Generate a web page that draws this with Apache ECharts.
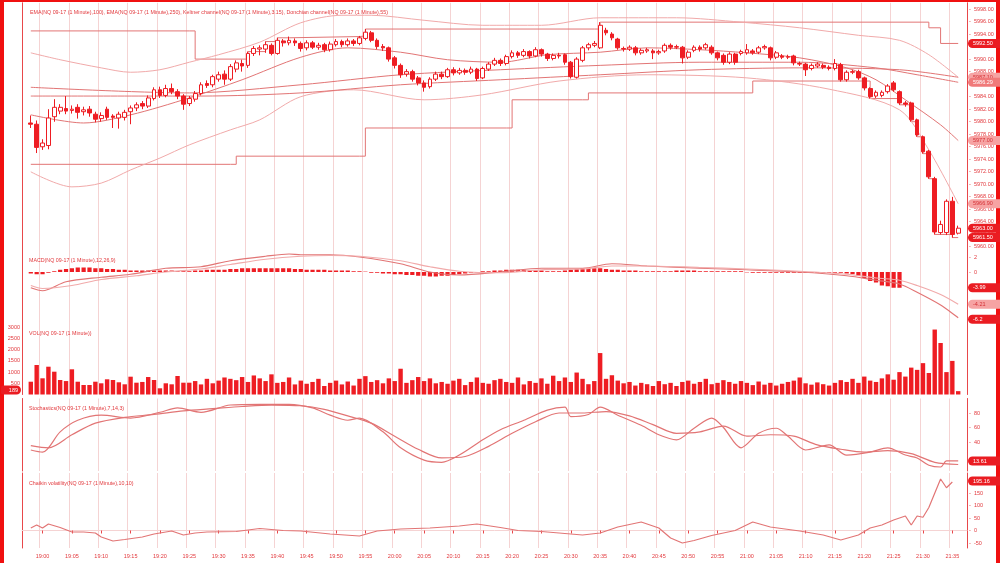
<!DOCTYPE html>
<html><head><meta charset="utf-8">
<script src="https://cdn.jsdelivr.net/npm/echarts@6.0.0/dist/echarts.min.js"></script>
<style>html,body{margin:0;padding:0;background:#fff}#c{width:1000px;height:563px}</style>
</head><body><div id="c"></div>
<script>
// ---------- categories (1-minute bars, 18:57 .. 21:37) ----------
const startMinute = 18 * 60 + 57, endMinute = 21 * 60 + 37;
const categories = [];
for (let m = startMinute; m <= endMinute; m++) categories.push(Math.floor(m / 60) + ':' + String(m % 60).padStart(2, '0'));

// ---------- OHLC  [open, close, low, high], first bar = index 1 (18:58) ----------
const candleStart = 1;
const ohlc = [
[5979.8,5979.6,5979.0,5981.0],[5979.6,5975.9,5975.0,5980.2],[5976.0,5976.6,5975.5,5977.2],[5976.2,5980.6,5975.6,5982.0],
[5980.8,5982.3,5980.0,5983.6],[5981.7,5982.3,5981.2,5982.8],[5982.1,5981.7,5981.2,5984.1],[5981.8,5982.0,5981.3,5982.6],
[5982.3,5981.5,5980.5,5982.8],[5981.6,5981.9,5981.0,5982.4],[5982.0,5981.4,5980.8,5982.5],[5981.2,5980.4,5979.9,5981.6],
[5980.5,5981.0,5980.0,5981.5],[5982.0,5980.7,5980.3,5982.4],[5980.9,5980.7,5979.0,5981.2],[5980.6,5981.2,5978.9,5981.6],
[5980.7,5981.5,5980.2,5981.9],[5981.6,5982.2,5979.6,5982.6],[5982.2,5982.7,5981.7,5983.1],[5982.9,5982.5,5982.0,5983.3],
[5982.5,5983.8,5982.2,5984.2],[5983.7,5985.1,5983.4,5985.5],[5985.1,5984.2,5983.8,5985.6],[5984.2,5985.3,5983.9,5985.9],
[5985.3,5984.8,5984.4,5986.1],[5984.8,5984.1,5983.6,5985.2],[5984.1,5982.8,5981.9,5984.4],[5982.9,5983.7,5982.5,5984.1],
[5983.6,5984.5,5983.2,5984.9],[5984.5,5985.9,5984.2,5986.3],[5986.1,5985.8,5985.4,5986.6],[5985.9,5987.2,5985.5,5987.5],
[5986.8,5987.5,5986.4,5988.0],[5987.6,5986.8,5985.9,5988.2],[5986.8,5988.8,5986.5,5989.2],[5988.4,5989.4,5987.9,5989.8],
[5989.3,5988.9,5988.0,5989.9],[5989.0,5990.9,5988.6,5991.2],[5990.9,5991.7,5990.5,5992.1],[5991.6,5991.8,5990.6,5992.2],
[5991.6,5992.3,5991.0,5992.8],[5992.2,5990.9,5990.6,5992.5],[5990.9,5993.0,5990.7,5993.4],[5992.9,5992.6,5992.0,5993.2],
[5992.6,5993.0,5992.2,5993.6],[5992.9,5992.6,5992.1,5993.3],[5992.5,5991.7,5991.2,5992.8],
[5991.8,5992.6,5991.4,5993.0],[5992.6,5991.9,5991.6,5992.9],[5991.9,5992.2,5991.5,5992.6],[5992.3,5991.5,5991.1,5992.6],
[5991.5,5992.4,5991.2,5992.8],[5992.3,5992.8,5992.0,5993.2],[5992.8,5992.3,5991.9,5993.1],[5992.3,5992.9,5992.0,5993.3],
[5992.9,5992.5,5992.1,5993.2],[5992.5,5993.4,5992.2,5993.7],[5993.3,5994.3,5993.0,5994.8],[5994.2,5993.0,5992.7,5994.5],
[5993.0,5992.0,5991.6,5993.3],[5992.0,5991.8,5991.3,5992.4],[5991.8,5990.0,5989.6,5992.0],[5990.2,5989.0,5988.5,5990.5],
[5989.0,5987.5,5987.0,5989.3],[5987.6,5988.0,5987.2,5988.4],[5988.0,5986.8,5986.4,5988.3],[5987.0,5986.2,5985.8,5987.3],
[5986.2,5985.5,5984.8,5986.6],[5985.6,5986.8,5985.3,5987.1],[5986.8,5987.6,5986.5,5988.0],[5987.6,5987.2,5986.8,5988.0],
[5987.2,5988.3,5987.0,5988.6],[5988.3,5987.8,5987.4,5988.7],[5987.8,5988.2,5987.5,5988.6],[5988.2,5987.9,5987.5,5988.5],
[5987.9,5988.4,5987.6,5988.8],[5988.4,5986.9,5986.5,5988.6],[5987.0,5988.5,5986.8,5988.8],[5988.4,5989.2,5988.1,5989.5],
[5989.2,5989.8,5988.9,5990.2],[5989.8,5989.3,5988.9,5990.1],[5989.3,5990.4,5989.0,5990.7],[5990.4,5991.0,5990.1,5991.4],
[5991.0,5990.6,5990.2,5991.3],[5990.6,5991.2,5990.3,5991.6],[5991.2,5990.5,5990.1,5991.4],[5990.5,5991.5,5990.3,5991.9],
[5991.5,5990.8,5990.4,5991.7],[5990.8,5990.1,5989.7,5991.0],[5990.1,5990.6,5989.8,5990.9],[5990.6,5990.5,5990.1,5991.0],
[5990.7,5989.5,5989.1,5990.9],[5989.5,5987.2,5986.9,5989.7],[5987.1,5990.0,5986.9,5990.3],[5989.8,5991.8,5989.5,5992.1],
[5991.8,5992.3,5991.4,5992.6],[5992.2,5992.5,5991.9,5992.9],[5991.8,5995.4,5991.6,5995.9],[5994.6,5994.2,5993.8,5995.0],
[5994.0,5993.4,5993.0,5994.3],[5993.2,5991.8,5991.5,5993.4],[5991.7,5991.6,5991.2,5992.0],[5991.6,5991.9,5991.3,5992.2],
[5991.8,5991.0,5990.6,5992.1],[5991.0,5991.4,5990.7,5991.7],[5991.3,5991.5,5991.0,5991.8],[5991.3,5991.0,5990.0,5991.6],
[5991.0,5991.2,5990.7,5991.5],[5991.3,5992.2,5991.0,5992.5],[5992.2,5991.9,5991.5,5992.5],[5991.9,5992.0,5991.6,5992.3],
[5991.9,5990.2,5989.3,5992.1],[5990.3,5991.1,5990.0,5991.4],[5991.4,5991.9,5991.1,5992.2],[5991.9,5991.6,5991.2,5992.2],
[5991.8,5992.3,5991.5,5992.6],[5991.9,5991.0,5990.7,5992.2],[5991.0,5990.2,5989.8,5991.2],[5990.6,5989.5,5989.1,5990.9],
[5989.5,5990.8,5989.2,5991.1],[5990.8,5989.5,5989.1,5991.0],[5990.9,5991.2,5990.6,5991.5],[5991.0,5991.5,5990.7,5992.4],
[5991.3,5991.0,5990.7,5991.6],[5991.1,5991.8,5990.8,5992.1],[5991.8,5992.0,5991.5,5992.3],[5991.8,5990.2,5989.8,5992.0],
[5990.3,5991.0,5990.0,5991.3],[5990.5,5990.3,5990.0,5990.8],[5990.3,5990.4,5990.0,5990.7],[5990.5,5989.4,5989.0,5990.7],
[5989.3,5989.2,5988.9,5989.6],[5989.2,5988.3,5987.3,5989.4],[5988.5,5989.0,5988.2,5989.3],[5988.9,5989.2,5988.6,5989.5],
[5989.0,5988.7,5988.4,5989.3],[5988.7,5988.5,5988.2,5989.0],[5988.5,5989.3,5988.2,5990.0],[5989.1,5986.7,5986.4,5989.4],
[5986.7,5987.9,5986.4,5988.2],[5987.9,5988.0,5987.6,5988.3],[5988.0,5987.0,5986.7,5988.3],[5987.0,5985.4,5985.0,5987.2],
[5985.3,5984.0,5983.7,5985.5],[5984.1,5984.7,5983.8,5985.0],[5984.2,5984.7,5983.9,5985.0],[5984.8,5985.7,5984.5,5986.0],
[5986.2,5985.1,5984.8,5986.5],[5984.8,5983.0,5982.7,5985.0],[5983.0,5982.8,5982.4,5983.3],[5983.0,5980.3,5980.0,5983.2],
[5980.3,5977.9,5977.6,5980.5],[5977.6,5975.2,5974.9,5977.8],[5975.3,5971.2,5970.9,5975.5],[5970.9,5962.4,5962.0,5971.2],
[5962.3,5963.6,5962.0,5964.2],[5962.3,5967.3,5961.9,5967.6],[5967.3,5962.0,5961.5,5968.0],[5962.2,5963.0,5962.0,5963.4]
];

// ---------- volume per bar (same indexing as ohlc) ----------
const volume = [
571,1317,723,1241,1018,647,600,1125,571,424,424,571,500,679,647,545,455,795,527,560,780,647,277,500,455,826,527,527,
600,450,700,500,620,760,700,640,780,560,850,720,600,900,520,560,760,450,620,
480,560,700,380,520,620,450,580,400,700,820,560,640,500,720,600,1150,520,640,780,600,720,500,560,480,620,700,420,560,760,
520,480,640,700,560,520,760,450,600,520,720,480,840,600,760,560,980,700,460,600,
1850,700,860,620,500,560,400,520,460,380,600,460,520,380,560,620,480,560,700,460,520,640,560,480,600,520,420,580,440,520,
400,480,560,620,760,500,440,540,460,400,520,640,560,700,520,800,620,560,720,900,660,1000,800,1200,1100,1400,960,2900,2300,1000,1500,150
];

// ---------- MACD histogram per bar ----------
const macdHist = [
-0.2,-0.3,-0.3,-0.1,0.1,0.3,0.4,0.5,0.6,0.6,0.6,0.5,0.5,0.4,0.4,0.3,0.3,0.2,0.2,0.2,0.2,0.2,0.2,0.2,0.2,0.1,0.1,0.1,0.2,0.2,
0.3,0.3,0.3,0.3,0.4,0.4,0.5,0.5,0.5,0.5,0.5,0.5,0.5,0.5,0.5,0.4,0.4,0.3,0.3,0.3,0.3,0.2,0.2,0.2,0.2,0.1,0.1,0.05,-0.1,-0.1,
-0.2,-0.2,-0.3,-0.3,-0.4,-0.4,-0.5,-0.5,-0.6,-0.6,-0.5,-0.5,-0.4,-0.3,-0.2,-0.1,-0.05,0.1,0.1,0.2,0.2,0.3,0.3,0.3,0.3,0.2,0.2,0.2,0.1,0.1,
0.1,0.2,0.3,0.4,0.5,0.5,0.5,0.5,0.4,0.3,0.3,0.2,0.2,0.2,0.1,0.1,0.1,0.1,0.1,0.1,0.2,0.2,0.2,0.2,0.1,0.1,0.1,0.1,0.1,0.1,
0.1,0.1,-0.05,-0.1,-0.1,-0.1,-0.1,-0.1,-0.1,-0.1,-0.1,-0.1,-0.1,-0.1,-0.1,-0.1,-0.1,-0.1,-0.1,-0.2,-0.3,-0.5,-0.8,-1.2,-1.4,-1.8,-1.9,-2.1,-2.1
];

// ---------- indicator lines: [barIndex, value] samples ----------
const macdLine   = [[1,-2.1],[3,-2.5],[7,-1.3],[13,-0.7],[18,-0.3],[24,0.5],[30,0.7],[35,1.5],[41,2.1],[45,2.4],[47,2.3],[52,2.3],[57,2.0],[64,1.1],[69,0],[74,-0.4],[81,0],[88,0.5],[95,0.5],[100,1.1],[106,0.8],[115,0.5],[123,0.3],[132,0],[140,-0.5],[145,-1.1],[149,-1.6],[152,-2.7],[156,-4.4],[159,-6.1]];
const macdSignal = [[1,-1.8],[3,-2.2],[8,-1.8],[13,-1.0],[19,-0.5],[24,0.0],[30,0.4],[35,1.0],[41,1.7],[47,2.1],[52,2.2],[57,2.1],[64,1.5],[69,0.7],[74,0.1],[81,-0.1],[88,0.3],[95,0.4],[100,0.8],[106,0.8],[115,0.6],[123,0.4],[132,0.1],[140,-0.3],[145,-0.8],[149,-1.1],[152,-1.8],[156,-3.0],[159,-4.3]];

const stochK = [[1,29],[3,26],[6,54],[9,70],[13,77],[18,73],[23,81],[26,87],[30,81],[35,91],[40,92],[45,92],[49,87],[52,77],[55,70],[57,73],[61,54],[64,32],[68,15],[71,12],[74,22],[78,43],[81,57],[85,70],[89,84],[92,88],[93,75],[96,78],[98,88],[101,77],[105,63],[108,50],[111,43],[114,59],[117,73],[119,60],[122,32],[125,52],[128,59],[130,48],[133,29],[137,36],[140,22],[144,26],[147,32],[150,22],[152,18],[154,8],[156,5.5],[157,14],[159,14]];
const stochD = [[1,35],[4,32],[8,50],[12,66],[17,74],[22,78],[27,83],[32,86],[37,89],[42,91],[47,90],[51,85],[55,76],[59,66],[63,48],[67,30],[71,18],[75,20],[79,34],[83,52],[87,68],[91,80],[95,80],[99,82],[103,76],[107,64],[111,52],[115,54],[119,62],[123,48],[127,50],[131,48],[135,36],[139,30],[143,26],[147,28],[151,24],[155,12],[159,9]];

const chaikin = [[1,10],[2,22],[3,10],[4,26],[6,12],[8,-6],[10,-6],[12,-10],[13,-26],[15,-42],[17,-36],[20,-26],[22,-14],[25,-2],[27,-18],[29,-10],[31,-6],[36,-4],[40,8],[44,0],[47,-2],[52,-14],[57,-22],[60,-2],[64,6],[69,10],[74,18],[77,26],[81,12],[84,0],[88,-4],[91,-10],[95,-18],[98,-10],[101,14],[105,34],[108,10],[110,-30],[112,-50],[114,-40],[117,-20],[121,0],[124,34],[127,14],[132,-2],[136,-18],[139,-38],[142,-18],[144,10],[146,22],[148,42],[150,58],[151,22],[152,58],[153,53],[154,92],[156,206],[157,171],[158,194]];

const donchianUpper = [[1,5994.5],[28,5994.5],[29,5990.0],[37,5990.0],[38,5991.2],[41,5992.8],[43,5993.4],[45,5993.6],[57,5993.7],[58,5994.8],[97,5994.8],[98,5995.9],[153,5995.9],[154,5995.0],[156,5992.5],[159,5992.5]];
const donchianLower = [[1,5973.2],[35,5973.2],[36,5974.5],[57,5974.5],[58,5979.0],[82,5979.0],[83,5983.5],[95,5983.5],[96,5984.6],[123,5984.6],[124,5986.5],[143,5986.5],[144,5983.7],[149,5982.7],[151,5980.0],[152,5977.6],[153,5974.9],[154,5970.9],[155,5962.0],[158,5961.5],[159,5961.5]];
const keltnerUpper = [[1,5991.0],[6,5989.9],[13,5988.6],[18,5987.9],[23,5988.3],[28,5989.5],[33,5990.7],[40,5992.7],[47,5995.8],[54,5997.0],[59,5997.0],[68,5996.2],[78,5995.4],[88,5995.4],[98,5996.6],[111,5996.6],[122,5995.9],[132,5995.0],[142,5993.8],[149,5993.0],[154,5990.7],[159,5987.1]];
const keltnerMid   = [[1,5981.1],[10,5979.8],[18,5981.1],[28,5983.8],[37,5986.7],[47,5990.3],[55,5991.8],[64,5991.1],[72,5989.9],[81,5989.5],[89,5990.7],[98,5991.1],[106,5991.8],[115,5991.5],[123,5991.0],[132,5990.2],[140,5988.6],[145,5986.7],[150,5983.5],[156,5979.5],[159,5977.0]];
const keltnerLower = [[1,5972.0],[8,5969.6],[13,5970.2],[18,5972.3],[23,5974.2],[28,5976.3],[35,5978.7],[40,5980.3],[47,5984.0],[56,5985.1],[68,5983.5],[78,5984.3],[91,5986.5],[106,5987.5],[123,5987.0],[137,5985.2],[149,5981.9],[154,5975.5],[159,5966.9]];
const ema100 = [[1,5985.5],[28,5984.6],[47,5985.9],[64,5987.5],[81,5988.3],[98,5989.0],[115,5989.5],[132,5989.5],[145,5988.6],[152,5987.5],[159,5986.3]];
const ema250 = [[1,5984.1],[30,5984.1],[47,5984.6],[64,5985.9],[81,5986.7],[98,5987.5],[115,5988.3],[132,5988.6],[149,5988.3],[159,5987.1]];

// ---------- right-edge value badges ----------
const priceBadges = [[5992.5,'5992.50','d'],[5987.1,'5987.10','p'],[5986.29,'5986.29','m'],[5977.0,'5977.00','p'],[5966.9,'5966.90','p'],[5963.0,'5963.00','d'],[5961.5,'5961.50','d']];
const macdBadges  = [[-2.1,'-3.99','d'],[-4.3,'-4.21','p'],[-6.3,'-6.2','d']];
const volBadge    = [200,'189'];
const stochBadge  = [13.8,'13.61'];
const chaikinBadge = [198,'195.16'];

const titles = [
  ['EMA(NQ 09-17 (1 Minute),100), EMA(NQ 09-17 (1 Minute),250), Keltner channel(NQ 09-17 (1 Minute),3.15), Donchian channel(NQ 09-17 (1 Minute),55)', 25, 5],
  ['MACD(NQ 09-17 (1 Minute),12,26,9)', 24, 253],
  ['VOL(NQ 09-17 (1 Minute))', 24, 326],
  ['Stochastics(NQ 09-17 (1 Minute),7,14,3)', 24, 401],
  ['Chaikin volatility(NQ 09-17 (1 Minute),10,10)', 24, 476]
];

// ---------- styling ----------
const RED = '#ee1d23', TXT = '#e2383c', GRIDC = '#f5d3d3', AXISC = '#e8474a';
const LDARK = '#e27575', LLIGHT = '#f1aaaa';
const FONT = 'Liberation Sans';
const badgeColors = { d: ['#ea1c22', '#fff'], p: ['#f6a3a3', '#d43035'], m: ['#f07a7a', '#fff'] };
const L = 22, R = 33;
const grids = [
  { left: L, right: R, top: 2.74, height: 250.5 },
  { left: L, right: R, top: 249.5, height: 75 },
  { left: L, right: R, top: 321.7, height: 72.8 },
  { left: L, right: R, top: 398.5, height: 72.5 },
  { left: L, right: R, top: 473, height: 75 }
];
const isFive = (idx) => (idx - 3) % 5 === 0;
const xAxes = grids.map((g, gi) => ({
  type: 'category', gridIndex: gi, data: categories, boundaryGap: true,
  axisLine: { show: gi === 4, lineStyle: { color: GRIDC } },
  axisTick: { show: gi === 4, interval: (i) => isFive(i), alignWithLabel: true, length: 3, lineStyle: { color: AXISC } },
  axisLabel: { show: gi === 4, interval: (i) => isFive(i), color: TXT, fontSize: 5.5, fontFamily: FONT, margin: 5 },
  splitLine: { show: true, interval: (i) => isFive(i), lineStyle: { color: GRIDC, width: 1 } }
}));
function rightAxis(gi, min, max, interval, fmt) {
  return { type: 'value', gridIndex: gi, position: 'right', min, max, interval, scale: true,
    axisLine: { show: true, lineStyle: { color: AXISC } }, axisTick: { show: false },
    axisLabel: { color: TXT, fontSize: 5.5, fontFamily: FONT, margin: 2, formatter: fmt },
    splitLine: { show: false } };
}
function leftLine(gi, min, max) {
  return { type: 'value', gridIndex: gi, position: 'left', min, max, axisLine: { show: true, lineStyle: { color: AXISC } },
    axisTick: { show: false }, axisLabel: { show: false }, splitLine: { show: false } };
}
const yAxes = [
  rightAxis(0, 5959, 5999, 1, (v) => (Math.round(v) % 2 === 0 ? '-  ' + v.toFixed(2) : '')),
  rightAxis(1, -7, 3, 1, (v) => (v === 0 || v === 2 ? '-  ' + v : '')),
  { type: 'value', gridIndex: 2, position: 'left', min: 0, max: 3250, interval: 250,
    axisLine: { show: true, lineStyle: { color: AXISC } }, axisTick: { show: false },
    axisLabel: { color: TXT, fontSize: 5.5, fontFamily: FONT, margin: 2, formatter: (v) => (v % 500 === 0 && v > 0 ? v : '') },
    splitLine: { show: false } },
  rightAxis(3, 0, 100, 20, (v) => (v >= 40 && v <= 80 ? '-  ' + v : '')),
  rightAxis(4, -70, 230, 10, (v) => (v % 50 === 0 && v >= -50 && v <= 150 ? '-  ' + v : '')),
  leftLine(0, 5959, 5999), leftLine(1, -7, 3), leftLine(3, 0, 100), leftLine(4, -70, 230),
  { type: 'value', gridIndex: 2, position: 'right', min: 0, max: 3250, axisLine: { show: true, lineStyle: { color: AXISC } },
    axisTick: { show: false }, axisLabel: { show: false }, splitLine: { show: false } }
];
function badgeLine(items, pos, align) {
  return { symbol: ['none', 'none'], silent: true, animation: false,
    lineStyle: { color: 'rgba(0,0,0,0)', width: 0 },
    data: items.map(([v, t, k]) => ({ yAxis: v,
      label: { show: true, position: pos, formatter: t, distance: 1, fontSize: 5.5, fontFamily: FONT,
        color: badgeColors[k][1], backgroundColor: badgeColors[k][0], padding: [2, 3, 1, 5],
        borderRadius: align === 'right' ? [2, 6, 6, 2] : [6, 2, 2, 6], width: align === 'right' ? 12 : 26, align: align || 'left' } })) };
}
function lineSeries(data, xi, yi, color, width, step) {
  return { type: 'line', xAxisIndex: xi, yAxisIndex: yi, data, symbol: 'none', step: step || false, smooth: step ? false : 0.3,
    lineStyle: { color, width: width || 1 }, animation: false, z: 3 };
}
const candleData = ohlc.map((d, k) => [k + candleStart, d[0], d[1], d[2], d[3]]);
const volData = volume.map((v, k) => [k + candleStart, v]);
const histData = macdHist.map((v, k) => [k + candleStart, v]);

const series = [
  lineSeries(donchianUpper, 0, 0, LDARK, 1, 'end'),
  lineSeries(donchianLower, 0, 0, LDARK, 1, 'end'),
  lineSeries(keltnerUpper, 0, 0, LLIGHT, 1),
  lineSeries(keltnerMid, 0, 0, LDARK, 1),
  lineSeries(keltnerLower, 0, 0, LLIGHT, 1),
  lineSeries(ema100, 0, 0, LDARK, 1),
  lineSeries(ema250, 0, 0, LDARK, 1),
  { type: 'candlestick', xAxisIndex: 0, yAxisIndex: 0, data: candleData, encode: { x: 0, y: [1, 2, 3, 4] }, barWidth: '72%', z: 5,
    itemStyle: { color: '#fff', color0: RED, borderColor: RED, borderColor0: RED, borderWidth: 1 }, animation: false,
    markLine: badgeLine(priceBadges, 'end') },
  { type: 'bar', xAxisIndex: 1, yAxisIndex: 1, data: histData, barWidth: '72%', itemStyle: { color: RED }, animation: false,
    markLine: badgeLine(macdBadges, 'end') },
  lineSeries(macdLine, 1, 1, LDARK, 1.2),
  lineSeries(macdSignal, 1, 1, LLIGHT, 1.2),
  { type: 'bar', xAxisIndex: 2, yAxisIndex: 2, data: volData, barWidth: '75%', itemStyle: { color: RED }, animation: false,
    markLine: badgeLine([[volBadge[0], volBadge[1], 'd']], 'start', 'right') },
  lineSeries(stochK, 3, 3, LDARK, 1.2),
  Object.assign(lineSeries(stochD, 3, 3, LDARK, 1.2), { markLine: badgeLine([[stochBadge[0], stochBadge[1], 'd']], 'end') }),
  Object.assign(lineSeries(chaikin, 4, 4, LDARK, 1.2), { smooth: false, markLine: badgeLine([[chaikinBadge[0], chaikinBadge[1], 'd']], 'end') })
];

const chart = echarts.init(document.getElementById('c'), null, { renderer: 'canvas' });
chart.setOption({
  backgroundColor: '#fff', animation: false,
  title: titles.map(([t, x, y]) => ({ text: t, left: x, top: y, textStyle: { color: TXT, fontSize: 5.3, fontWeight: 'normal', fontFamily: FONT } })),
  grid: grids, xAxis: xAxes, yAxis: yAxes, series,
  graphic: [
    { type: 'rect', shape: { x: 0, y: 0, width: 4, height: 563 }, style: { fill: '#f01010' } },
    { type: 'rect', shape: { x: 0, y: 0, width: 1000, height: 2 }, style: { fill: '#f01010' } },
    { type: 'rect', shape: { x: 996, y: 0, width: 4, height: 563 }, style: { fill: '#f01010' } }
  ]
});
</script></body></html>
